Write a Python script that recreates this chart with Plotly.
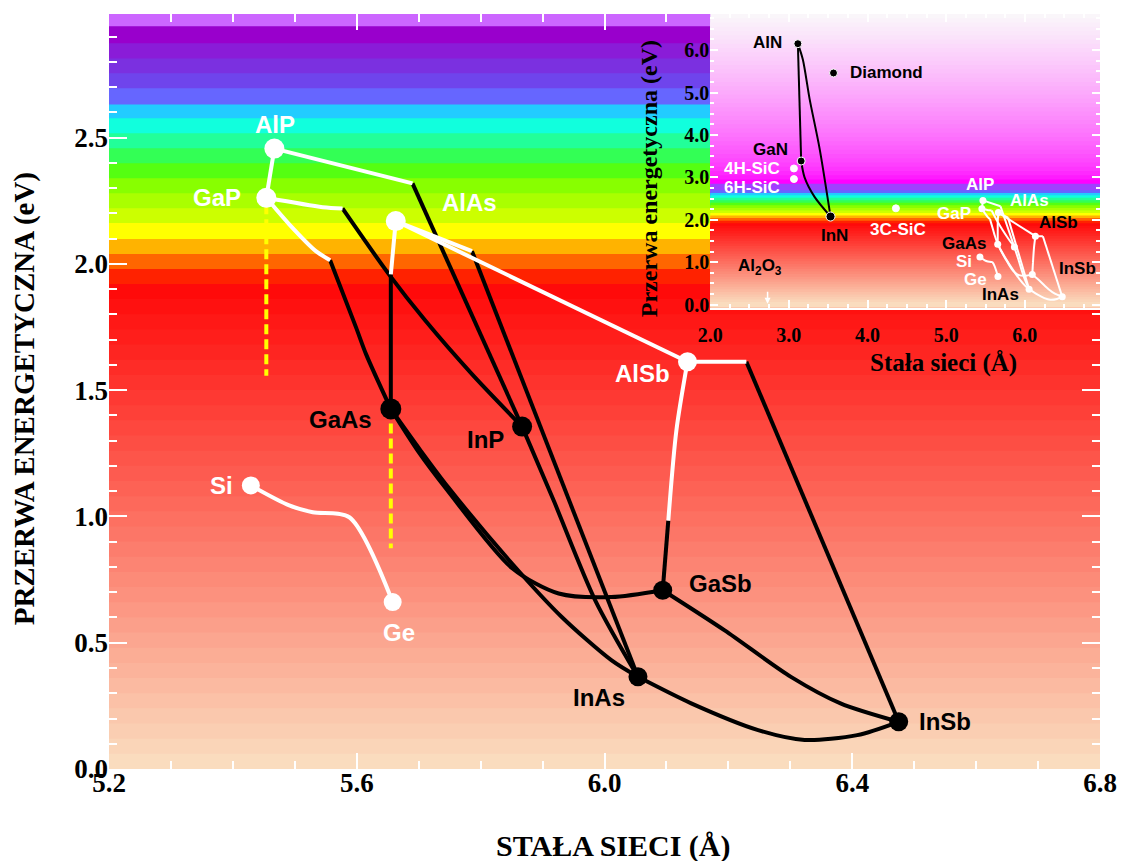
import plotly.graph_objects as go

# ---------------- data: main chart (lattice constant in Å, band gap in eV) ----------------
MAIN_NAMES = ["AlP", "GaP", "AlAs", "GaAs", "InP", "AlSb", "GaSb", "InAs", "InSb", "Si", "Ge"]
MAIN_A = [5.467, 5.454, 5.663, 5.655, 5.867, 6.134, 6.094, 6.054, 6.475, 5.429, 5.658]
MAIN_EG = [2.457, 2.262, 2.170, 1.426, 1.356, 1.613, 0.708, 0.365, 0.187, 1.123, 0.661]

# alloy lines: white = indirect gap part, black = direct gap part (a, Eg)
ALP_GAP_W = [(5.467, 2.457), (5.454, 2.262)]
ALP_INP_W = [(5.467, 2.457), (5.690, 2.319)]
ALP_INP_B = [(5.690, 2.319), (5.867, 1.356)]
GAP_INP_W = [(5.454, 2.262), (5.545, 2.225), (5.577, 2.220)]
GAP_INP_B = [(5.577, 2.220), (5.652, 1.959), (5.711, 1.775), (5.786, 1.564), (5.867, 1.356)]
GAP_GAAS_W = [(5.454, 2.262), (5.491, 2.157), (5.534, 2.051), (5.557, 2.015)]
GAP_GAAS_B = [(5.557, 2.015), (5.599, 1.748), (5.615, 1.643), (5.655, 1.426)]
ALAS_GAAS_W = [(5.663, 2.170), (5.655, 1.959)]
ALAS_GAAS_B = [(5.655, 1.959), (5.655, 1.426)]
ALAS_INAS_W = [(5.663, 2.170), (5.786, 2.051)]
ALAS_INAS_B = [(5.786, 2.051), (6.054, 0.365)]
ALAS_ALSB_W = [(5.663, 2.170), (6.134, 1.613)]
ALSB_INSB_W = [(6.134, 1.613), (6.229, 1.613)]
ALSB_INSB_B = [(6.229, 1.613), (6.475, 0.187)]
ALSB_GASB_W = [(6.134, 1.613), (6.116, 1.340), (6.103, 0.984)]
ALSB_GASB_B = [(6.103, 0.984), (6.094, 0.708)]
INP_INAS_B = [(5.867, 1.356), (5.918, 1.063), (5.985, 0.668), (6.054, 0.365)]
GAAS_INAS_B = [(5.655, 1.426), (5.702, 1.265), (5.747, 1.118), (5.851, 0.813),
               (5.931, 0.602), (6.011, 0.431), (6.054, 0.365)]
GAAS_GASB_B = [(5.655, 1.426), (5.700, 1.255), (5.745, 1.108), (5.851, 0.795),
               (5.926, 0.695), (6.011, 0.681), (6.094, 0.708)]
GASB_INSB_B = [(6.094, 0.708), (6.194, 0.549), (6.301, 0.365), (6.381, 0.260), (6.475, 0.187)]
INAS_INSB_B = [(6.054, 0.365), (6.140, 0.260), (6.248, 0.154), (6.323, 0.115),
               (6.408, 0.134), (6.475, 0.187)]
SI_GE_W = [(5.429, 1.123), (5.491, 1.044), (5.529, 1.017), (5.588, 0.997), (5.658, 0.661)]

# yellow dashed verticals (a, Eg start, Eg end)
DASH_GAP = [(5.454, 2.237), (5.454, 1.557)]
DASH_GAAS = [(5.655, 1.368), (5.655, 0.874)]

# ---------------- data: inset ----------------
INSET_NAMES = ["AlN", "GaN", "InN", "Diamond", "4H-SiC", "6H-SiC", "3C-SiC"]
INSET_A = [3.115, 3.157, 3.530, 3.568, 3.065, 3.065, 4.361]
INSET_EG = [6.15, 3.385, 2.077, 5.46, 3.21, 2.96, 2.27]
ALN_GAN = [(3.115, 6.15), (3.157, 3.385)]
GAN_INN = [(3.157, 3.385), (3.200, 3.00), (3.327, 2.54), (3.530, 2.077)]
ALN_INN = [(3.115, 6.15), (3.179, 5.77), (3.264, 4.85), (3.390, 3.69), (3.530, 2.077)]

# ---------------- background colour bands (eV edges, top->bottom) ----------------
RAINBOW_EDGES = [2.99, 2.941, 2.874, 2.814, 2.755, 2.696, 2.632, 2.577, 2.518, 2.458, 2.399,
                 2.34, 2.28, 2.221, 2.162, 2.099, 2.04, 1.98, 1.921]
RAINBOW_COLORS = ["#CC66FF", "#9900CC", "#8A1CD8", "#7B30E0", "#6F44EC", "#6666FF", "#22CCFF",
                  "#11FFDD", "#22FF99", "#33FF55", "#55FF11", "#88FF00", "#AAFF00", "#CCFF00",
                  "#FFFF00", "#FFB300", "#FF6600", "#FF2200"]
RED_TOP_RGB = (255, 10, 10)
RED_BOTTOM_RGB = (250, 220, 190)
RED_BAND_COUNT = 32

SERIF = "Liberation Serif, Times New Roman, serif"
SANS = "Liberation Sans, Arial, sans-serif"

fig = go.Figure()
shapes = []


def rgb(c):
    return "rgb(%d,%d,%d)" % tuple(int(round(v)) for v in c)


def mix(c1, c2, t):
    return tuple(a + (b - a) * t for a, b in zip(c1, c2))


def band(xref, yref, x0, x1, top, bottom, color):
    # each band is drawn from its top edge down to the floor of the plot; bands are
    # stacked top -> bottom so the next one covers the rest (no anti-alias seams)
    return dict(type="rect", xref=xref, yref=yref, x0=x0, x1=x1, y0=bottom, y1=top,
                fillcolor=color, line=dict(width=0), layer="below")


def red_bands(xref, yref, x0, x1, floor):
    top = RAINBOW_EDGES[-1]
    step = top / RED_BAND_COUNT
    out = []
    for i in range(RED_BAND_COUNT):
        t = i / (RED_BAND_COUNT - 1)
        out.append(band(xref, yref, x0, x1, top - i * step, floor,
                        rgb(mix(RED_TOP_RGB, RED_BOTTOM_RGB, t))))
    return out


# main background
for i, col in enumerate(RAINBOW_COLORS):
    shapes.append(band("x", "y", 5.2, 6.8, RAINBOW_EDGES[i], 0.0, col))
shapes += red_bands("x", "y", 5.2, 6.8, 0.0)

# inset background
IX0, IX1 = 2.0, 6.955
IY0, IY1 = -0.07, 6.85
mag_lo = 2.85
nmag = 40
for i in range(nmag):
    top = IY1 - (IY1 - mag_lo) * i / nmag
    t = (1 - i / (nmag - 1)) ** 0.6
    shapes.append(band("x2", "y2", IX0, IX1, top, IY0,
                       rgb(mix((255, 0, 255), (250, 246, 250), t))))
shapes.append(band("x2", "y2", IX0, IX1, mag_lo, IY0, "#A040FF"))
for i, col in enumerate(RAINBOW_COLORS):
    if RAINBOW_EDGES[i + 1] < 2.69:
        shapes.append(band("x2", "y2", IX0, IX1, min(RAINBOW_EDGES[i], 2.696), IY0, col))
shapes += red_bands("x2", "y2", IX0, IX1, IY0)

# ---------------- main traces ----------------
MAIN_WHITE = [ALP_GAP_W, ALP_INP_W, GAP_INP_W, GAP_GAAS_W, ALAS_GAAS_W, ALAS_INAS_W,
              ALAS_ALSB_W, ALSB_INSB_W, ALSB_GASB_W, SI_GE_W]
MAIN_BLACK = [ALP_INP_B, GAP_INP_B, GAP_GAAS_B, ALAS_GAAS_B, ALAS_INAS_B, ALSB_INSB_B,
              ALSB_GASB_B, INP_INAS_B, GAAS_INAS_B, GAAS_GASB_B, GASB_INSB_B, INAS_INSB_B]


def add_seg(seg, color, width, xa="x", ya="y", dash=None, smooth=True):
    fig.add_trace(go.Scatter(
        x=[p[0] for p in seg], y=[p[1] for p in seg], mode="lines",
        line=dict(color=color, width=width, dash=dash,
                  shape="spline" if (smooth and len(seg) > 2) else "linear", smoothing=0.8),
        xaxis=xa, yaxis=ya, hoverinfo="skip", showlegend=False))


for seg in (DASH_GAP, DASH_GAAS):
    add_seg(seg, "#FFFF00", 4, dash="10px,5px")
for seg in MAIN_BLACK:
    add_seg(seg, "black", 4)
for seg in MAIN_WHITE:
    add_seg(seg, "white", 4)

MARK_COLOR = {"AlP": "white", "GaP": "white", "AlAs": "white", "GaAs": "black", "InP": "black",
              "AlSb": "white", "GaSb": "black", "InAs": "black", "InSb": "black",
              "Si": "white", "Ge": "white"}
fig.add_trace(go.Scatter(
    x=MAIN_A, y=MAIN_EG, mode="markers",
    marker=dict(size=[20, 20, 20, 21, 20, 19, 19, 19, 19, 18, 18], opacity=1,
                color=[MARK_COLOR[n] for n in MAIN_NAMES], line=dict(width=0)),
    hoverinfo="skip", showlegend=False))

LABEL_STYLE = {  # (text colour, xshift px, yshift px)
    "AlP": ("white", 1, 24), "GaP": ("white", -49, 0), "AlAs": ("white", 74, 19),
    "GaAs": ("black", -50, -11), "InP": ("black", -37, -13), "AlSb": ("white", -45, -12),
    "GaSb": ("black", 58, 7), "InAs": ("black", -39, -21), "InSb": ("black", 46, 0),
    "Si": ("white", -29, 0), "Ge": ("white", 6, -30)}
annotations = []
for n, a, e in zip(MAIN_NAMES, MAIN_A, MAIN_EG):
    col, dx, dy = LABEL_STYLE[n]
    annotations.append(dict(x=a, y=e, xref="x", yref="y", text=n, showarrow=False,
                            xshift=dx, yshift=dy,
                            font=dict(family=SANS, size=24, color=col, weight="bold")))

# ---------------- inset traces ----------------
for seg in MAIN_WHITE + MAIN_BLACK:
    add_seg(seg, "white", 2, "x2", "y2")
for seg in (ALN_GAN, GAN_INN, ALN_INN):
    add_seg(seg, "black", 2, "x2", "y2")
fig.add_trace(go.Scatter(x=MAIN_A, y=MAIN_EG, mode="markers", xaxis="x2", yaxis="y2",
                         marker=dict(size=7, color="white", opacity=1),
                         hoverinfo="skip", showlegend=False))
INSET_MARK = {"AlN": "black", "GaN": "black", "InN": "black", "Diamond": "black",
              "4H-SiC": "white", "6H-SiC": "white", "3C-SiC": "white"}
fig.add_trace(go.Scatter(x=INSET_A, y=INSET_EG, mode="markers", xaxis="x2", yaxis="y2",
                         marker=dict(size=[8, 8, 9, 8, 7, 7, 7], opacity=1,
                                     color=[INSET_MARK[n] for n in INSET_NAMES]),
                         hoverinfo="skip", showlegend=False))

INSET_LABELS = [  # text, x, y (inset data coords), colour
    ("AlN", 2.735, 6.17, "black"), ("Diamond", 4.243, 5.47, "black"),
    ("GaN", 2.773, 3.65, "black"), ("4H-SiC", 2.532, 3.21, "white"),
    ("6H-SiC", 2.532, 2.77, "white"), ("InN", 3.584, 1.64, "black"),
    ("3C-SiC", 4.383, 1.78, "white"), ("Al<sub>2</sub>O<sub>3</sub>", 2.634, 0.88, "black"),
    ("AlP", 5.435, 2.84, "white"), ("AlAs", 6.056, 2.45, "white"),
    ("GaP", 5.105, 2.15, "white"), ("AlSb", 6.423, 1.94, "black"),
    ("GaAs", 5.232, 1.43, "black"), ("Si", 5.232, 1.02, "white"),
    ("Ge", 5.371, 0.60, "white"), ("InAs", 5.688, 0.24, "black"),
    ("InSb", 6.664, 0.85, "black")]
for t, x, y, c in INSET_LABELS:
    annotations.append(dict(x=x, y=y, xref="x2", yref="y2", text=t, showarrow=False,
                            font=dict(family=SANS, size=17, color=c, weight="bold")))
annotations.append(dict(x=2.73, y=0.02, xref="x2", yref="y2", ax=0, ay=-22, text=" ",
                        showarrow=True, arrowhead=2, arrowsize=0.8, arrowwidth=1.5,
                        arrowcolor="white"))

# ---------------- titles ----------------
annotations.append(dict(x=0.509, y=-0.1019, xref="paper", yref="paper", showarrow=False,
                        text="STAŁA SIECI (Å)", xanchor="center", yanchor="middle",
                        font=dict(family=SERIF, size=30, color="black", weight="bold")))
annotations.append(dict(x=-0.0855, y=0.49, xref="paper", yref="paper", showarrow=False,
                        text="PRZERWA ENERGETYCZNA (eV)", textangle=-90,
                        xanchor="center", yanchor="middle",
                        font=dict(family=SERIF, size=29, color="black", weight="bold")))
annotations.append(dict(x=0.5443, y=0.7817, xref="paper", yref="paper", showarrow=False,
                        text="Przerwa energetyczna (eV)", textangle=-90,
                        xanchor="center", yanchor="middle",
                        font=dict(family=SERIF, size=24, color="black", weight="bold")))
annotations.append(dict(x=0.842, y=0.5384, xref="paper", yref="paper", showarrow=False,
                        text="Stała sieci (Å)", xanchor="center", yanchor="middle",
                        font=dict(family=SERIF, size=25, color="black", weight="bold")))

tickfont_main = dict(family=SERIF, size=27, color="black", weight="bold")
tickfont_inset = dict(family=SERIF, size=20, color="black", weight="bold")

fig.update_layout(
    width=1129, height=861,
    margin=dict(l=109, r=26, t=13, b=92, pad=0),
    paper_bgcolor="white", plot_bgcolor="rgba(0,0,0,0)",
    shapes=shapes, annotations=annotations, showlegend=False,
    xaxis=dict(range=[5.2, 6.8], domain=[0, 1], anchor="y", tick0=5.2, dtick=0.4,
               tickformat=".1f", ticks="inside", ticklen=16, tickwidth=2, tickcolor="white",
               minor=dict(dtick=0.1, ticks="inside", ticklen=8, tickwidth=2, tickcolor="white"),
               mirror="ticks", showgrid=False, zeroline=False, showline=False,
               tickfont=tickfont_main, ticklabelstandoff=-5),
    yaxis=dict(range=[0, 2.99], domain=[0, 1], anchor="x", tick0=0, dtick=0.5,
               tickformat=".1f", ticks="inside", ticklen=18, tickwidth=2, tickcolor="white",
               minor=dict(dtick=0.1, ticks="inside", ticklen=8, tickwidth=2, tickcolor="white"),
               mirror="ticks", showgrid=False, zeroline=False, showline=False,
               tickfont=tickfont_main),
    xaxis2=dict(range=[IX0, IX1], domain=[0.6066, 1], anchor="y2", tick0=2, dtick=1,
                tickformat=".1f", ticks="inside", ticklen=8, tickwidth=1.5, tickcolor="white",
                minor=dict(dtick=0.25, ticks="inside", ticklen=4, tickwidth=1.5,
                           tickcolor="white"),
                mirror="ticks", showgrid=False, zeroline=False, showline=True,
                linecolor="white", linewidth=2, tickfont=tickfont_inset,
                ticklabelstandoff=8),
    yaxis2=dict(range=[IY0, IY1], domain=[0.6111, 1], anchor="x2", tick0=0, dtick=1,
                tickformat=".1f", ticks="inside", ticklen=8, tickwidth=1.5, tickcolor="white",
                minor=dict(dtick=0.25, ticks="inside", ticklen=4, tickwidth=1.5,
                           tickcolor="white"),
                mirror="ticks", showgrid=False, zeroline=False, showline=False,
                tickfont=tickfont_inset),
)

fig.write_html("out.html")
